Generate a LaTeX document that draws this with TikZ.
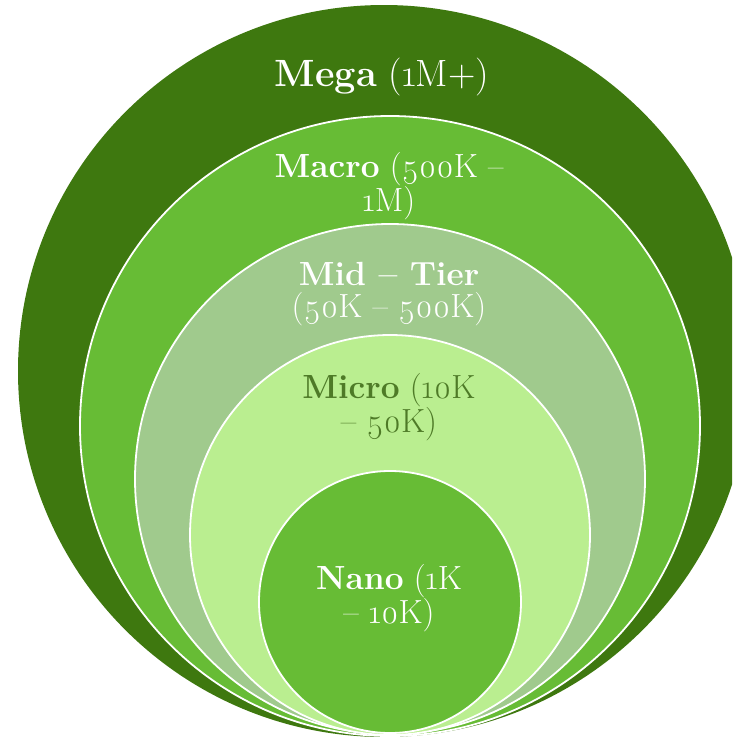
\documentclass[tikz,border=0pt]{standalone}
\usepackage{fontspec}
\setmainfont{Latin Modern Roman}[Numbers=OldStyle]
\definecolor{megac}{HTML}{3E780F}
\definecolor{macroc}{HTML}{67BC35}
\definecolor{midc}{HTML}{A0CA8D}
\definecolor{microc}{HTML}{BAEE90}
\definecolor{nanoc}{HTML}{67BC35}
\definecolor{microtxt}{HTML}{4E7A27}
\tikzset{
  ring/.style={draw=white, line width=1.8pt},
  lbl/.style={align=center, font=\fontsize{33.5}{32.5}\selectfont, text=white, inner sep=0pt},
}
\begin{document}
\begin{tikzpicture}[x=1pt,y=-1pt]
\useasboundingbox (0,0) rectangle (732,737);
\clip (0,0) rectangle (732,737);
\fill[megac] (384,371) circle[radius=366pt];
\filldraw[fill=macroc, ring] (390,426) circle[radius=310pt];
\filldraw[fill=midc, ring] (390,479) circle[radius=255pt];
\filldraw[fill=microc, ring] (390,535) circle[radius=200pt];
\filldraw[fill=nanoc, ring] (390,602) circle[radius=131pt];
\node[lbl, font=\fontsize{38}{38}\selectfont] (mega) at (382,77) {\textbf{Mega} (1M+)};
\node[lbl] (macro) at (389,186) {\textbf{Macro} (500K --\\1M)};
\node[lbl] (mid) at (389,294) {\textbf{Mid -- Tier}\\(50K -- 500K)};
\node[lbl, text=microtxt] (micro) at (389,407) {\textbf{Micro} (10K\\-- 50K)};
\node[lbl] (nano) at (389,598) {\textbf{Nano} (1K\\-- 10K)};
\end{tikzpicture}
\end{document}
